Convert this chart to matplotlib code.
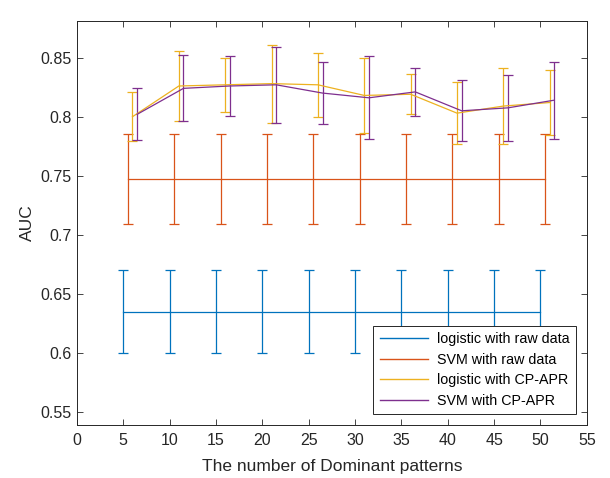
import matplotlib.pyplot as plt
from matplotlib.lines import Line2D

plt.rcParams['font.family'] = ['Liberation Sans', 'DejaVu Sans']

# number of dominant patterns
x = [5, 10, 15, 20, 25, 30, 35, 40, 45, 50]

# logistic with raw data (constant)
log_raw = [0.635] * 10
log_raw_err = [0.035] * 10
# SVM with raw data (constant)
svm_raw = [0.747] * 10
svm_raw_err = [0.038] * 10
# logistic with CP-APR
log_cp = [0.800, 0.826, 0.827, 0.828, 0.827, 0.818, 0.819, 0.803, 0.809, 0.812]
log_cp_err = [0.021, 0.030, 0.023, 0.033, 0.027, 0.032, 0.017, 0.026, 0.032, 0.0275]
# SVM with CP-APR
svm_cp = [0.802, 0.824, 0.826, 0.827, 0.820, 0.816, 0.821, 0.805, 0.8075, 0.814]
svm_cp_err = [0.022, 0.028, 0.0255, 0.032, 0.0265, 0.035, 0.020, 0.0257, 0.028, 0.0325]

labels = ['logistic with raw data', 'SVM with raw data',
          'logistic with CP-APR', 'SVM with CP-APR']
colors = ['#0072BD', '#D95319', '#EDB120', '#7E2F8E']
shift = [0, 0.5, 1.0, 1.5]  # small horizontal offsets so bars don't overlap

fig = plt.figure(figsize=(6.1, 4.78), dpi=100)
ax = fig.add_axes([0.126, 0.111, 0.836, 0.845])

series = [(log_raw, log_raw_err), (svm_raw, svm_raw_err),
          (log_cp, log_cp_err), (svm_cp, svm_cp_err)]
for (y, e), c, s in zip(series, colors, shift):
    ax.errorbar([v + s for v in x], y, yerr=e, color=c, lw=0.9,
                elinewidth=0.9, capsize=3.3, capthick=0.9)

ax.set_xlim(0, 55)
ax.set_ylim(0.539, 0.881)
ax.set_xticks(range(0, 56, 5))
ax.set_yticks([0.55, 0.6, 0.65, 0.7, 0.75, 0.8, 0.85])
ax.set_yticklabels(['0.55', '0.6', '0.65', '0.7', '0.75', '0.8', '0.85'])

gray = '#262626'
ax.tick_params(direction='in', top=True, right=True, length=4,
               width=0.6, labelsize=11.5, colors=gray, labelcolor=gray)
ax.tick_params(axis='x', pad=6)
for sp in ax.spines.values():
    sp.set_color(gray)
    sp.set_linewidth(0.7)

ax.set_xlabel('The number of Dominant patterns', fontsize=12.5, color=gray,
              labelpad=8)
ax.set_ylabel('AUC', fontsize=12.5, color=gray)

handles = [Line2D([], [], color=c, lw=1.0) for c in colors]
leg = ax.legend(handles, labels, loc='lower right', fontsize=10.3,
                handlelength=3.4, handletextpad=0.6,
                fancybox=False, framealpha=1, edgecolor=gray,
                borderaxespad=0.75, labelspacing=0.45, borderpad=0.45)
leg.get_frame().set_linewidth(0.7)

fig.savefig('out.png', dpi=100)
